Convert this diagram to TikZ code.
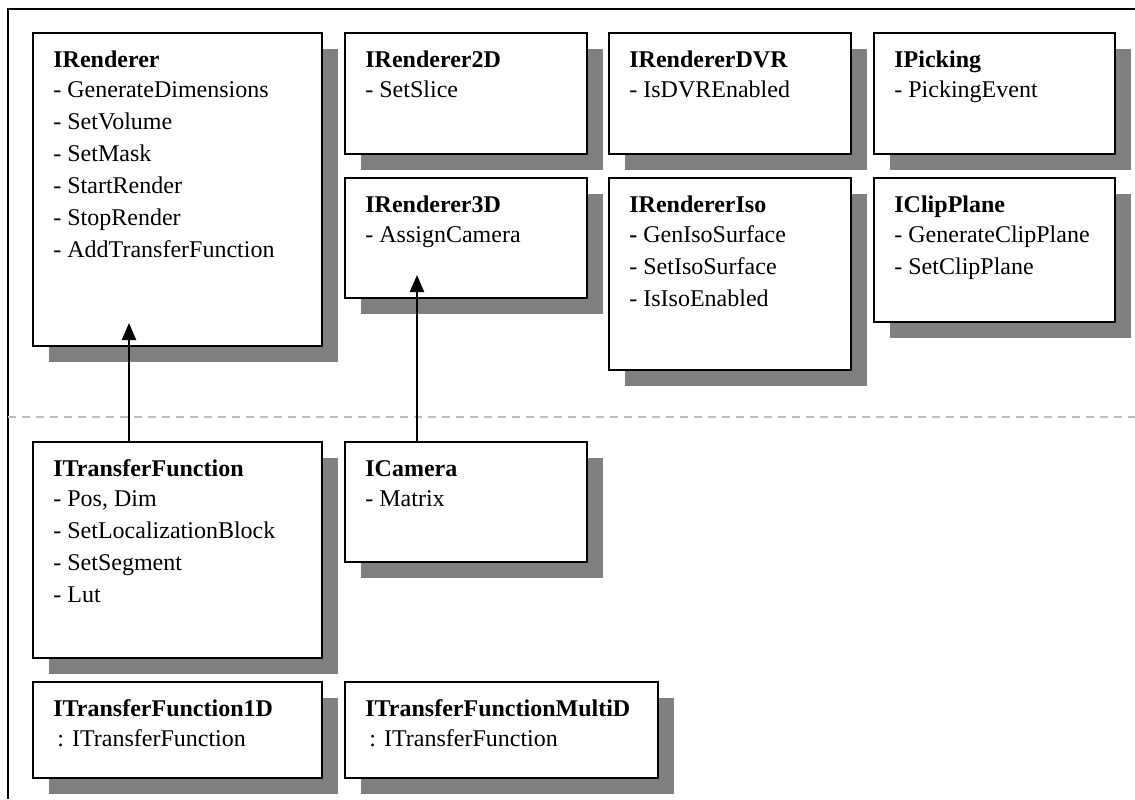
\documentclass[tikz,border=0pt]{standalone}
\usepackage{fontspec}
\setmainfont{Liberation Serif}
\usetikzlibrary{arrows.meta,fit,shadows,calc}

\definecolor{shadowgray}{HTML}{808080}
\definecolor{sepgray}{HTML}{BDBDBD}

\tikzset{
  x=0.5pt, y=-0.5pt,
  classbox/.style={draw=black, line width=1pt, fill=white, inner sep=0pt,
    drop shadow={shadow xshift=8pt, shadow yshift=-8pt, fill=shadowgray, opacity=1}},
  members/.style={anchor=base west, inner sep=0pt, font=\fontsize{12}{16}\selectfont},
  inherit/.style={line width=1pt, -{Triangle[width=7pt,length=8.5pt]}},
  outerframe/.style={line width=0.7pt},
  separator/.style={sepgray, line width=1pt, dash pattern=on 3.8pt off 3.2pt}
}

% class box spanning two corners, with a drop shadow
\newcommand\umlbox[5]{%
  \path (#2,#3) coordinate (#1-nw) (#4,#5) coordinate (#1-se);
  \node[classbox, fit=(#1-nw)(#1-se)] (#1) {};}
% name and member list of a class box
\newcommand\umltext[2]{%
  \node[members] (#1-text) at ([shift={(10.5pt,-17.5pt)}]#1.north west)
    {\begin{tabular}[t]{@{}l@{}}#2\end{tabular}};}

\begin{document}
\begin{tikzpicture}
\useasboundingbox (0,0) rectangle (1135,799);

% outer frame and layer separator
\draw[outerframe] (8,799) -- (8,9) -- (1135,9);
\draw[separator] (8,417) -- (1135,417);

% renderer interfaces
\umlbox{ren}{33}{33}{322}{346}
\umlbox{rtwo}{345}{33}{587}{154}
\umlbox{rthree}{345}{178}{587}{298}
\umlbox{dvr}{609}{33}{851}{154}
\umlbox{iso}{609}{178}{851}{370}
\umlbox{pick}{874}{33}{1115}{154}
\umlbox{clip}{874}{178}{1115}{322}

% supporting interfaces
\umlbox{itf}{33}{442}{322}{658}
\umlbox{cam}{345}{442}{587}{562}
\umlbox{tfone}{33}{682}{322}{778}
\umlbox{tfmulti}{345}{682}{658}{778}

\umltext{ren}{\textbf{IRenderer}\\[-1pt] - GenerateDimensions\\ - SetVolume\\ - SetMask\\ - StartRender\\ - StopRender\\ - AddTransferFunction}
\umltext{rtwo}{\textbf{IRenderer2D}\\[-1pt] - SetSlice}
\umltext{rthree}{\textbf{IRenderer3D}\\[-1pt] - AssignCamera}
\umltext{dvr}{\textbf{IRendererDVR}\\[-1pt] - IsDVREnabled}
\umltext{iso}{\textbf{IRendererIso}\\[-1pt] \textbf{-} GenIsoSurface\\ - SetIsoSurface\\ - IsIsoEnabled}
\umltext{pick}{\textbf{IPicking}\\[-1pt] - PickingEvent}
\umltext{clip}{\textbf{IClipPlane}\\[-1pt] - GenerateClipPlane\\ - SetClipPlane}
\umltext{itf}{\textbf{ITransferFunction}\\[-1pt] - Pos, Dim\\ - SetLocalizationBlock\\ - SetSegment\\ - Lut}
\umltext{cam}{\textbf{ICamera}\\[-1pt] - Matrix}
\umltext{tfone}{\textbf{ITransferFunction1D}\\[-1pt] \hspace{2pt}: ITransferFunction}
\umltext{tfmulti}{\textbf{ITransferFunctionMultiD}\\[-1pt] \hspace{2pt}: ITransferFunction}

% usage connectors
\draw[inherit] ([xshift=48.5pt]itf.north west) -- ([xshift=48.5pt,yshift=12pt]ren.south west);
\draw[inherit] ([xshift=36.5pt]cam.north west) -- ([xshift=36.5pt,yshift=12pt]rthree.south west);
\end{tikzpicture}
\end{document}
